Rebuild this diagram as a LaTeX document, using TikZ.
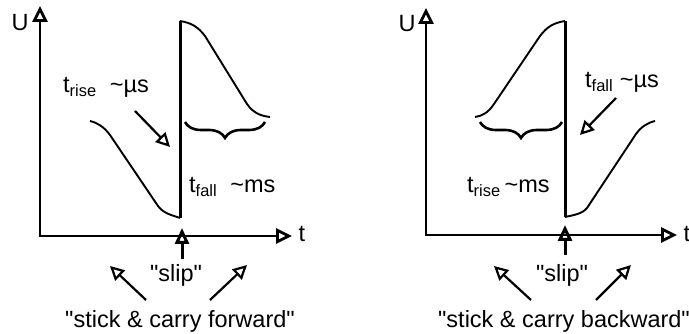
\documentclass[tikz,border=0pt]{standalone}
\usepackage{fontspec}
\setmainfont{Liberation Sans}[Ligatures=TeXOff]
\usetikzlibrary{arrows.meta,decorations.pathreplacing}
\tikzset{
	lbl/.style={inner sep=0pt,font=\fontsize{23.5}{28}\selectfont},
	axis/.style={line width=2.8pt,line join=miter,{Triangle[open,length=16pt,width=15pt]}-{Triangle[open,length=16pt,width=15pt]}},
	sig/.style={line width=1.9pt},
	jump/.style={line width=3pt},
	pointer/.style={line width=2.2pt,-{Triangle[open,length=14pt,width=14pt]}},
	slipper/.style={line width=3pt,-{Triangle[open,length=16pt,width=14pt]}},
	brc/.style={line width=2.6pt,decorate,decoration={brace,mirror,amplitude=16pt}}
}
\begin{document}
\begin{tikzpicture}[x=1pt,y=-1pt]
	\useasboundingbox (0,0) rectangle (689,334);
	% forward
	\draw[axis] (40,6) -- (40,236) -- (292,236);
	\node[lbl,anchor=base] (uf) at (20,31) {U};
	\node[lbl,anchor=base] (tf) at (302,242) {t};
	\draw[sig] (90,121) .. controls (98,123) and (104,127) .. (110,135) -- (158,206) .. controls (164,214) and (172,215) .. (180,218);
	\draw[jump] (180,218) -- (180,21);
	\draw[sig] (180,21) .. controls (192,23) and (198,27) .. (205,36) -- (247,104) .. controls (254,114) and (262,116) .. (270,117);
	\draw[brc] (185,122) -- (265,122);
	\node[lbl,anchor=base west] (risef) at (63,93) {t\textsubscript{rise}\ \ \textasciitilde µs};
	\node[lbl,anchor=base west] (fallf) at (189,193) {t\textsubscript{fall}\ \ \textasciitilde ms};
	\draw[pointer] (135,111) -- (170,147);
	\draw[slipper] (182,259) -- (182,228);
	\node[lbl,anchor=base] (slipf) at (176,282) {"slip"};
	\draw[pointer] (146,300) -- (110,266);
	\draw[pointer] (210,300) -- (247,265);
	\node[lbl,anchor=base] (stickf) at (180,327) {"stick \& carry forward"};
	% backward
	\draw[axis] (426,8) -- (426,235) -- (677,235);
	\node[lbl,anchor=base] (ub) at (407,32) {U};
	\node[lbl,anchor=base] (tb) at (687,242) {t};
	\draw[sig] (655,121) .. controls (647,123) and (641,127) .. (636,134) -- (587,208) .. controls (582,214) and (574,215) .. (565,217);
	\draw[jump] (565,217) -- (565,21);
	\draw[sig] (565,21) .. controls (553,23) and (547,27) .. (540,36) -- (494,104) .. controls (488,113) and (482,116) .. (475,117);
	\draw[brc] (480,122) -- (562,122);
	\node[lbl,anchor=base west] (fallb) at (585,88) {t\textsubscript{fall}\ \textasciitilde µs};
	\node[lbl,anchor=base west] (riseb) at (467,193) {t\textsubscript{rise}\,\textasciitilde ms};
	\draw[pointer] (616,98) -- (580,135);
	\draw[slipper] (565,255) -- (565,225);
	\node[lbl,anchor=base] (slipb) at (562,282) {"slip"};
	\draw[pointer] (531,300) -- (494,266);
	\draw[pointer] (596,300) -- (631,265);
	\node[lbl,anchor=base] (stickb) at (564,327) {"stick \& carry backward"};
\end{tikzpicture}
\end{document}
